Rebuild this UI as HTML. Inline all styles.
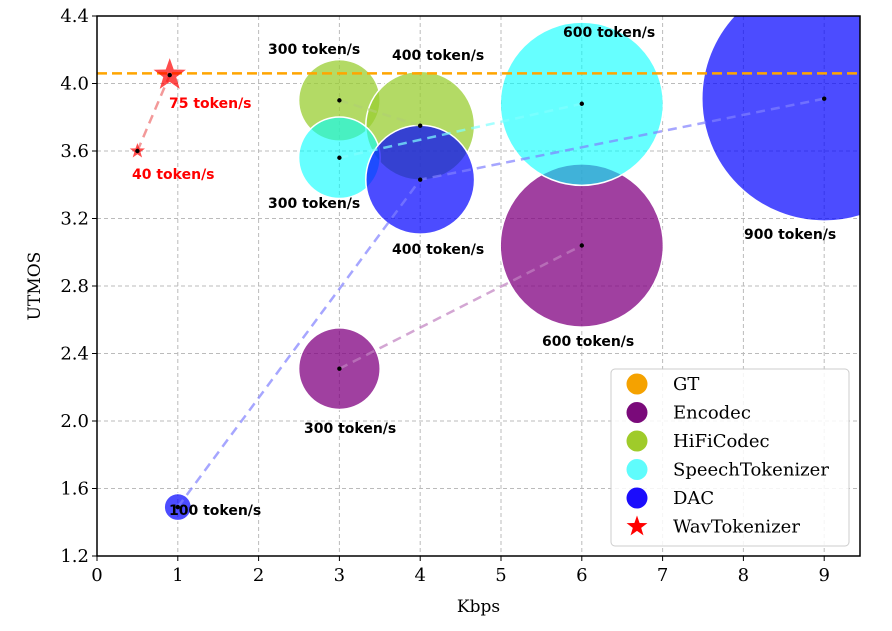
<!DOCTYPE html>
<html><head><meta charset="utf-8"><style>
body{margin:0;background:#fff}
svg text{font-family:"DejaVu Serif","Liberation Serif",serif}
.lb{font-family:"DejaVu Sans","Liberation Sans",sans-serif;font-weight:bold;font-size:14px}
</style></head><body>
<svg id="c" width="892" height="626" viewBox="0 0 892 626"></svg>
<script>
const xTicks=[0,1,2,3,4,5,6,7,8,9];
const yTicks=[1.2,1.6,2.0,2.4,2.8,3.2,3.6,4.0,4.4];
const gtValue=4.06;
const seriesNames=["Encodec","HiFiCodec","SpeechTokenizer","DAC","WavTokenizer"];
const encodecX=[3,6], encodecY=[2.31,3.04], encodecTok=[300,600];
const hifiX=[3,4], hifiY=[3.90,3.75], hifiTok=[300,400];
const speechX=[3,6], speechY=[3.56,3.88], speechTok=[300,600];
const dacX=[1,4,9], dacY=[1.49,3.43,3.91], dacTok=[100,400,900];
const wavX=[0.5,0.9], wavY=[3.6,4.05], wavTok=[40,75];

const L=97,R=860,T=16,B=556;
const X=v=>L+v*80.8, Y=v=>B-(v-1.2)*(B-T)/3.2;
const rad=t=>t*0.136;
const svg=document.getElementById('c');const NS="http://www.w3.org/2000/svg";
function el(tag,a,p){const e=document.createElementNS(NS,tag);for(const k in a)e.setAttribute(k,a[k]);(p||svg).appendChild(e);return e;}
const defs=el('defs',{});const cp=el('clipPath',{id:'cl'},defs);el('rect',{x:L,y:T,width:R-L,height:B-T},cp);
xTicks.forEach(v=>{const g=el('line',{x1:X(v),x2:X(v),y1:T,y2:B,stroke:'#bbb','stroke-dasharray':'4,3','stroke-width':1});

const t=el('text',{x:X(v),y:B+25,'text-anchor':'middle','font-size':18});t.textContent=v;

el('line',{x1:X(v),x2:X(v),y1:B,y2:B+5,stroke:'#000'});});
yTicks.forEach(v=>{const g=el('line',{x1:L,x2:R,y1:Y(v),y2:Y(v),stroke:'#bbb','stroke-dasharray':'4,3','stroke-width':1});

const t=el('text',{x:L-8,y:Y(v)+6,'text-anchor':'end','font-size':18});t.textContent=v.toFixed(1);

el('line',{x1:L-5,x2:L,y1:Y(v),y2:Y(v),stroke:'#000'});});
const plot=el('g',{'clip-path':'url(#cl)'});
const series=[
 {n:'encodec',x:encodecX,y:encodecY,t:encodecTok,c:'#800080',o:0.75,lc:'#c080c0'},
 {n:'hificodec',x:hifiX,y:hifiY,t:hifiTok,c:'#9acd32',o:0.75,lc:'#b0d070'},
 {n:'speechtokenizer',x:speechX,y:speechY,t:speechTok,c:'#00ffff',o:0.6,lc:'#80ffff'},
 {n:'dac',x:dacX,y:dacY,t:dacTok,c:'#0000ff',o:0.7,lc:'#8080ff'}];
series.forEach(s=>{s.x.forEach((x,i)=>{const c=el('circle',{cx:X(x),cy:Y(s.y[i]),r:rad(s.t[i]),fill:s.c,'fill-opacity':s.o,stroke:'#fff','stroke-width':1.5},plot);
});});
series.forEach(s=>{const p=el('polyline',{points:s.x.map((x,i)=>X(x)+','+Y(s.y[i])).join(' '),fill:'none',stroke:s.lc,'stroke-width':2.5,'stroke-dasharray':'9,6','stroke-opacity':0.7},plot);

s.x.forEach((x,i)=>el('circle',{cx:X(x),cy:Y(s.y[i]),r:2.2,fill:'#000'},plot));});
const gl=el('line',{x1:L,x2:R,y1:Y(gtValue),y2:Y(gtValue),stroke:'#ffa500','stroke-width':2.5,'stroke-dasharray':'10,5'},plot);

el('polyline',{points:wavX.map((x,i)=>X(x)+','+Y(wavY[i])).join(' '),fill:'none',stroke:'#f08080','stroke-width':2.5,'stroke-dasharray':'9,6','stroke-opacity':0.8},plot);
function star(cx,cy,r,p,op){let pts=[];for(let k=0;k<10;k++){const a=-Math.PI/2+k*Math.PI/5,rr=k%2?r*0.4:r;pts.push((cx+rr*Math.cos(a))+','+(cy+rr*Math.sin(a)));}
const s=el('polygon',{points:pts.join(' '),fill:'#ff0000','fill-opacity':op},p);return s;}
wavX.forEach((x,i)=>{const s=star(X(x),Y(wavY[i]),i?17:8,plot,0.7);
el('circle',{cx:X(x),cy:Y(wavY[i]),r:2.2,fill:'#000'},plot);});
const labels=[[268,54,'300 token/s','#000'],[392,60,'400 token/s','#000'],[563,37,'600 token/s','#000'],[268,208,'300 token/s','#000'],[392,254,'400 token/s','#000'],[744,239,'900 token/s','#000'],[542,346,'600 token/s','#000'],[304,433,'300 token/s','#000'],[169,515,'100 token/s','#000'],[169,108,'75 token/s','#f00'],[132,179,'40 token/s','#f00']];
labels.forEach(l=>{const t=el('text',{x:l[0],y:l[1],fill:l[3],class:'lb'});t.textContent=l[2];
});
el('rect',{x:L,y:T,width:R-L,height:B-T,fill:'none',stroke:'#000','stroke-width':1.5});
const lg=el('g',{});
el('rect',{x:611,y:369,width:238,height:177,rx:4,fill:'#fff','fill-opacity':0.85,stroke:'#ccc'},lg);
const lgNames=['GT','Encodec','HiFiCodec','SpeechTokenizer','DAC','WavTokenizer'];
const lgCols=['#f5a200','#7a0a7a','#9fcb2a','#5ffcfc','#1b0dfc','#ff0000'];
lgNames.forEach((n,i)=>{const y=384+i*28.5;
if(i<5)el('circle',{cx:637,cy:y,r:10.5,fill:lgCols[i]},lg);else star(637,y,11,lg,1);
const t=el('text',{x:673,y:y+6,'font-size':18},lg);t.textContent=n;
});
const xt=el('text',{x:(L+R)/2,y:612,'text-anchor':'middle','font-size':17});xt.textContent='Kbps';

const yt=el('text',{x:0,y:0,'text-anchor':'middle','font-size':17,transform:'translate(40,'+((T+B)/2)+') rotate(-90)'});yt.textContent='UTMOS';

</script></body></html>
